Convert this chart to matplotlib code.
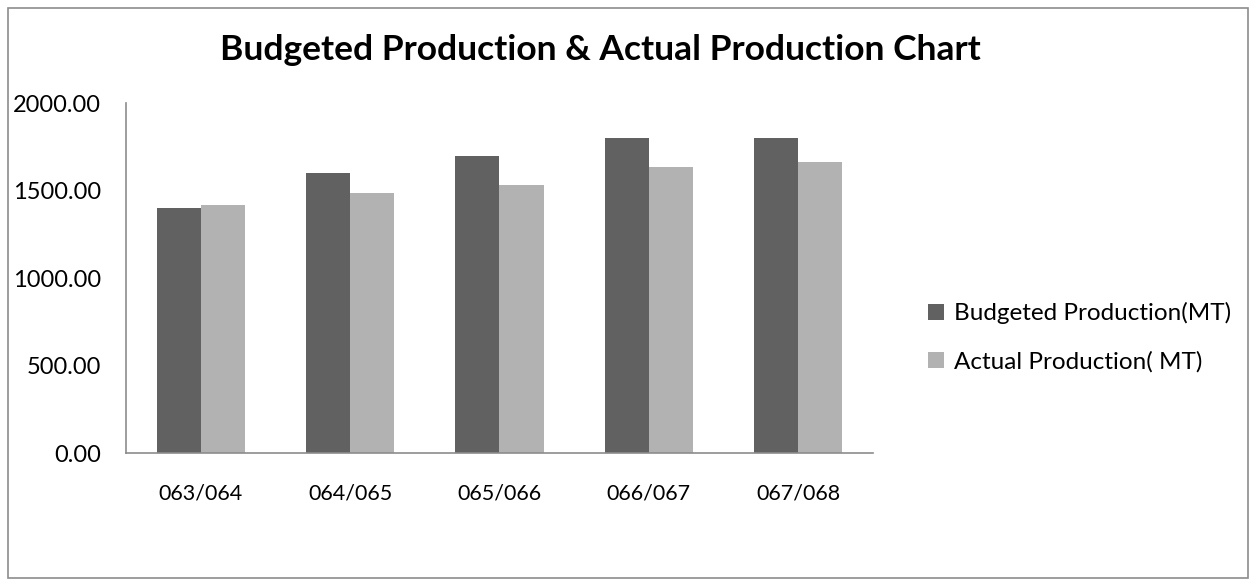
import matplotlib
matplotlib.use('Agg')
import matplotlib.pyplot as plt
from matplotlib.patches import Rectangle
import numpy as np

# Data
years = ['063/064', '064/065', '065/066', '066/067', '067/068']
budgeted = [1400, 1600, 1700, 1800, 1800]
actual = [1420, 1487, 1530, 1634, 1663]
y_ticks = [0, 500, 1000, 1500, 2000]

plt.rcParams['font.family'] = ['Lato', 'DejaVu Sans']

fig = plt.figure(figsize=(12.57, 5.84), dpi=100)
ax = fig.add_axes([0.1002, 0.2243, 0.5943, 0.5993])

# outer chart border
fig.patches.append(Rectangle((8 / 1257, 6 / 584), 1240 / 1257, 570 / 584,
                             transform=fig.transFigure, fill=False,
                             edgecolor='#8c8c8c', linewidth=1.2))

x = np.arange(len(years))
w = 0.295
ax.bar(x - w / 2, budgeted, w, color='#616161', label='Budgeted Production(MT)')
ax.bar(x + w / 2, actual, w, color='#b2b2b2', label='Actual Production( MT)')

ax.set_xlim(-0.5, len(years) - 0.5)
ax.set_ylim(0, 2000)
ax.set_yticks(y_ticks)
ax.set_yticklabels([f'{v:.2f}' for v in y_ticks], fontsize=17)
ax.set_xticks(x)
ax.set_xticklabels(years, fontsize=15.5)
ax.tick_params(axis='both', length=0)
ax.tick_params(axis='y', pad=18)
ax.tick_params(axis='x', pad=22)

for s in ['top', 'right']:
    ax.spines[s].set_visible(False)
for s in ['left', 'bottom']:
    ax.spines[s].set_color('#8c8c8c')
    ax.spines[s].set_linewidth(1.2)

fig.text(0.4774, 1 - 50 / 584, 'Budgeted Production & Actual Production Chart',
         ha='center', va='center', fontsize=25.5, fontweight='bold')

ax.legend(loc='center left', bbox_to_anchor=(1.045, 0.33), frameon=False,
          fontsize=17.5, handlelength=0.65, handleheight=0.65, handletextpad=0.4,
          labelspacing=1.1)

fig.savefig('out.png', dpi=100)
